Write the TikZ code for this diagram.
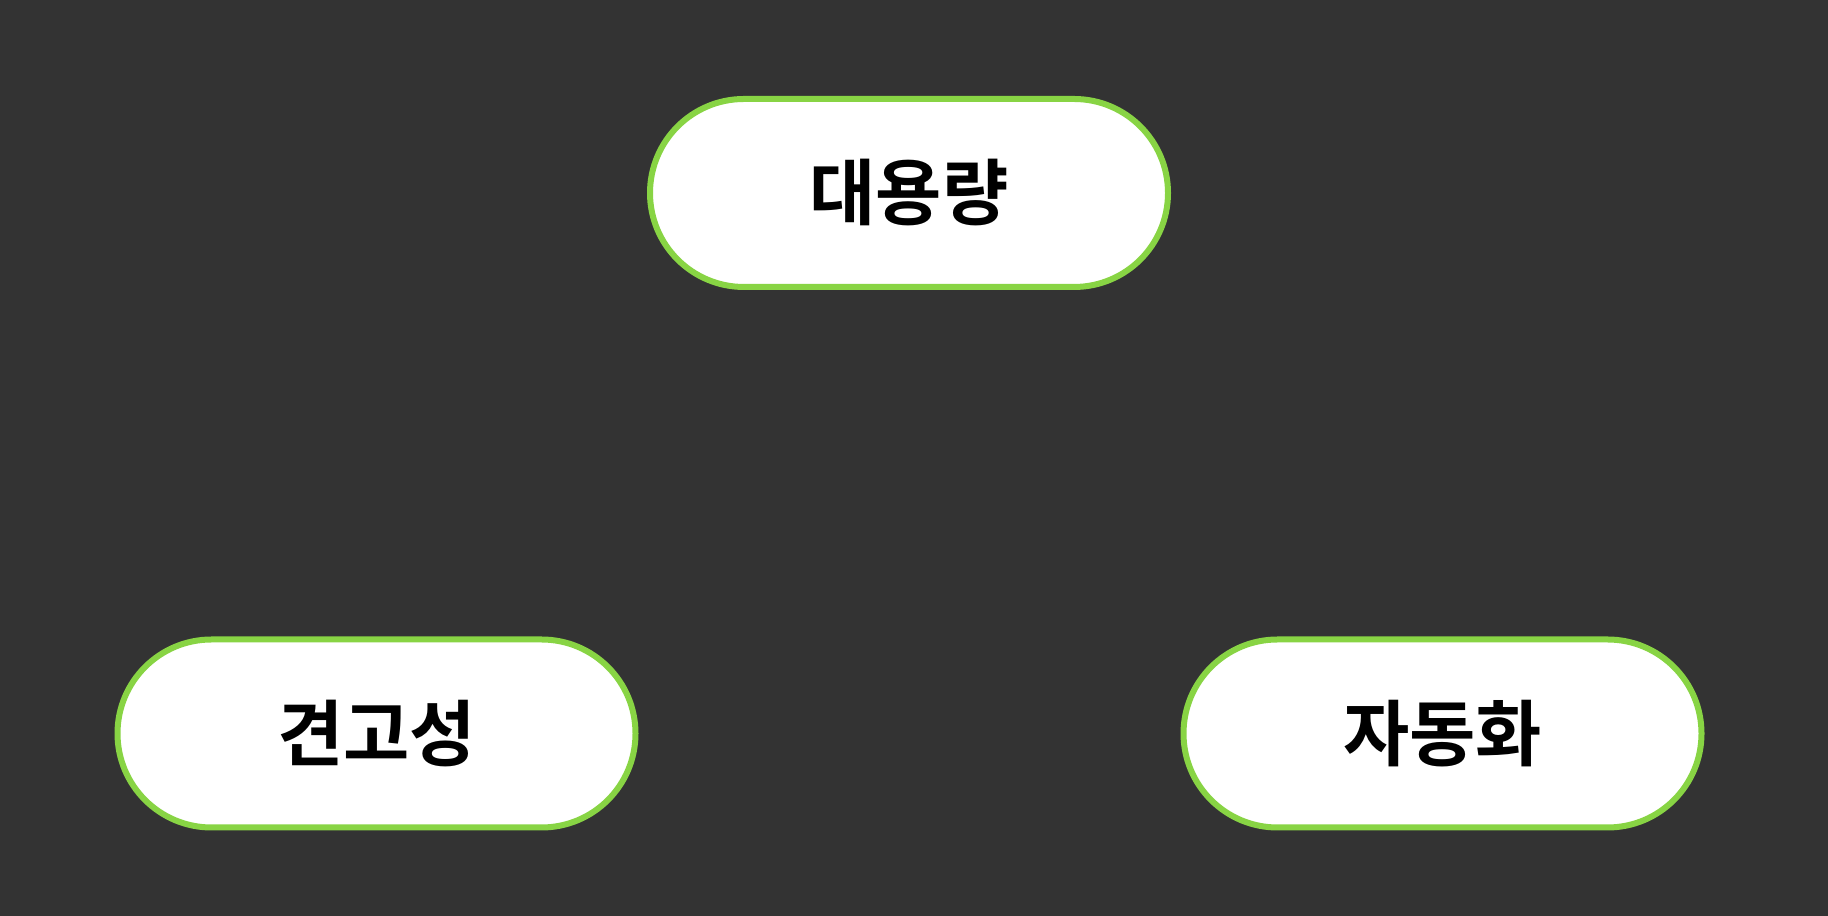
\documentclass[tikz,border=0pt]{standalone}
\usepackage{fontspec}
\newfontfamily\krfont{Noto Sans CJK KR}[BoldFont={* Bold}]
\definecolor{bgcol}{HTML}{333333}
\definecolor{edgegreen}{HTML}{88D444}
\begin{document}
\begin{tikzpicture}[x=1mm,y=1mm,
  pill/.style={draw=edgegreen, line width=0.6mm, fill=white,
    minimum width=51.8mm, minimum height=18.8mm, rounded corners=9.4mm,
    inner sep=0pt, font=\krfont\bfseries\fontsize{20.5}{24}\selectfont, text=black}]
\fill[bgcol] (0,0) rectangle (182.8,91.6);
\useasboundingbox (0,0) rectangle (182.8,91.6);
\node[pill] (top) at (90.9,72.3) {대용량};
\node[pill] (left) at (37.65,18.25) {견고성};
\node[pill] (right) at (144.25,18.25) {자동화};
\end{tikzpicture}
\end{document}
